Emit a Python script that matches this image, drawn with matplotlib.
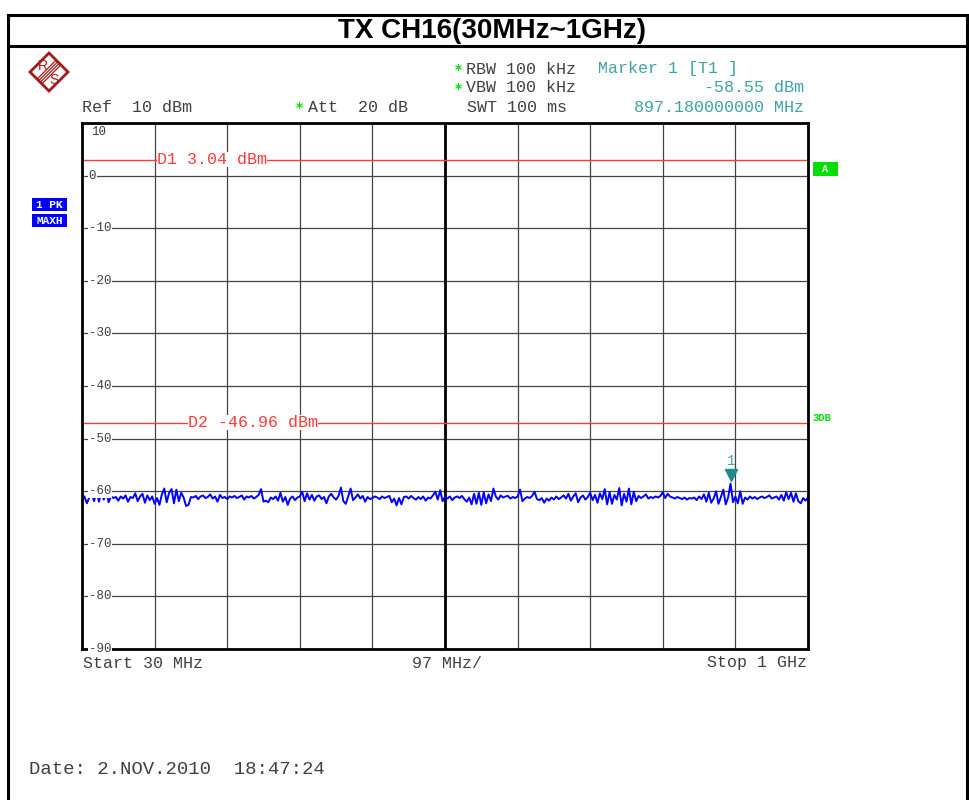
import numpy as np
import matplotlib.pyplot as plt
from matplotlib.patches import Polygon, Rectangle
from matplotlib.lines import Line2D

W, H = 969, 800

# 設定値
start_mhz = 30
stop_mhz = 1000
span_div = 97
ref_db = 10
db_div = 10
d1_dbm = 3.04
d2_dbm = -46.96
marker_mhz = 897.18
marker_dbm = -58.55

y_labels = ["10", "0", "-10", "-20", "-30", "-40", "-50", "-60", "-70", "-80", "-90"]

# トレース (画像から読み取り, 10 div x 30 点 + 1)
trace = [
    -61.8, -61.0, -62.3, -61.2, -60.3, -61.9, -59.7, -62.0, -60.1, -61.6,
    -59.9, -62.1, -61.0, -61.3, -61.1, -61.8, -61.0, -61.4, -60.8, -62.0,
    -61.1, -61.3, -60.4, -61.9, -61.0, -60.5, -62.2, -60.8, -61.7, -61.0,
    -62.4, -61.3, -62.6, -60.6, -59.5, -62.1, -60.3, -59.6, -62.3, -59.7,
    -61.9, -60.3, -61.2, -62.8, -62.6, -61.1, -61.2, -60.9, -61.5, -61.0,
    -60.8, -61.3, -61.1, -60.6, -61.4, -61.0, -62.0, -60.7, -61.3, -61.1,
    -61.5, -61.0, -61.2, -60.9, -61.3, -61.1, -60.8, -61.6, -61.0, -61.2,
    -60.9, -61.4, -61.1, -60.7, -59.6, -62.0, -61.8, -62.1, -61.2, -61.5,
    -61.0, -61.8, -60.3, -62.0, -61.1, -62.6, -61.4, -61.0, -61.7, -61.2,
    -61.0, -60.1, -61.9, -60.4, -61.6, -60.7, -61.8, -61.0, -60.8, -61.5,
    -61.1, -62.3, -61.0, -60.5, -61.2, -61.6, -60.9, -59.3, -61.9, -62.4,
    -61.0, -59.5, -61.7, -61.2, -60.6, -61.4, -60.9, -62.0, -61.1, -61.5,
    -61.3, -61.0, -61.2, -61.5, -61.0, -61.3, -61.1, -60.9, -62.1, -61.4,
    -62.7, -61.3, -62.5, -61.1, -61.0, -61.4, -60.9, -61.3, -61.6, -61.1,
    -61.5, -61.0, -61.8, -61.2, -61.4, -60.8, -60.1, -61.6, -59.8, -61.9,
    -61.1, -61.4, -61.0, -61.7, -61.2, -61.0, -61.3, -60.9, -61.5, -62.0,
    -61.2, -62.5, -60.5, -62.4, -60.3, -62.6, -60.2, -62.3, -60.6, -61.9,
    -59.5, -61.0, -61.6, -60.8, -61.2, -61.0, -60.9, -61.4, -61.1, -61.3,
    -61.0, -59.7, -61.9, -61.4, -61.1, -61.3, -60.9, -60.1, -61.5, -61.7,
    -61.3, -62.2, -61.4, -61.8, -61.2, -61.6, -61.0, -61.5, -61.2, -60.8,
    -61.4, -60.5, -61.8, -61.0, -60.4, -62.1, -61.2, -60.8, -61.6, -61.1,
    -60.3, -61.7, -60.7, -62.2, -60.4, -61.5, -59.6, -62.5, -60.2, -62.4,
    -60.7, -61.6, -59.4, -62.7, -60.5, -62.0, -59.5, -62.5, -60.1, -61.9,
    -60.9, -61.3, -61.0, -60.6, -61.4, -61.1, -61.3, -61.0, -61.2, -60.9,
    -60.2, -61.3, -60.5, -61.0, -61.2, -61.4, -61.1, -61.3, -61.5, -61.2,
    -61.6, -61.3, -61.4, -61.2, -61.7, -61.0, -61.5, -60.6, -62.0, -60.3,
    -62.2, -61.4, -60.0, -62.4, -61.1, -59.7, -62.5, -61.2, -58.55, -62.1,
    -61.0, -62.3, -60.0, -62.4, -61.2, -61.6, -61.0, -61.4, -61.1, -61.5,
    -61.2, -61.0, -61.3, -61.1, -60.8, -61.4, -61.2, -61.0, -61.6, -60.7,
    -61.8, -60.2, -61.5, -60.3, -62.0, -60.4, -61.9, -62.3, -61.3, -61.8,
    -61.2,
]
freq = np.linspace(start_mhz, stop_mhz, len(trace))

mono = "Liberation Mono"
grey_txt = "#404040"
teal = "#3fa3a3"
red = "#ff3a3a"
green = "#00e000"


def fx(x):
    return x / W


def fy(y):
    return 1 - y / H


fig = plt.figure(figsize=(W / 100, H / 100), dpi=100)

# 枠線
for xs, ys in [((8, 8), (15, 800)), ((967, 967), (15, 800)), ((8, 967), (15, 15)), ((8, 967), (46, 46))]:
    fig.add_artist(Line2D([fx(v) for v in xs], [fy(v) for v in ys], color="black", lw=2.2))

fig.text(fx(492), fy(31), "TX CH16(30MHz~1GHz)", ha="center", va="center",
         fontsize=20, fontweight="bold", family="Liberation Sans")

# R&S ロゴ
cx, cy, r = 49, 72, 19
logo_c = "#a01c1c"
fig.add_artist(Polygon([(fx(cx), fy(cy - r)), (fx(cx + r), fy(cy)), (fx(cx), fy(cy + r)), (fx(cx - r), fy(cy))],
                       closed=True, fill=False, edgecolor=logo_c, lw=2.0))
for d in (-2.4, -0.8, 0.8, 2.4):
    fig.add_artist(Line2D([fx(cx - 9.5 + d), fx(cx + 9.5 + d)], [fy(cy + 9.5 + d), fy(cy - 9.5 + d)],
                          color=logo_c, lw=0.9))
fig.text(fx(cx - 6), fy(cy - 6), "R", color=logo_c, fontsize=10, ha="center", va="center", family="Liberation Sans")
fig.text(fx(cx + 5), fy(cy + 8), "S", color=logo_c, fontsize=10, ha="center", va="center", family="Liberation Sans")

# ヘッダー
hdr = dict(fontsize=12, family=mono, va="center")
fig.text(fx(455), fy(70), "*", color=green, fontsize=10, fontweight="bold", va="center")
fig.text(fx(455), fy(89), "*", color=green, fontsize=10, fontweight="bold", va="center")
fig.text(fx(466), fy(69), "RBW 100 kHz", color=grey_txt, **hdr)
fig.text(fx(466), fy(88), "VBW 100 kHz", color=grey_txt, **hdr)
fig.text(fx(467), fy(107), "SWT 100 ms", color=grey_txt, **hdr)
fig.text(fx(598), fy(69), "Marker 1 [T1 ]", color=teal, **hdr)
fig.text(fx(804), fy(88), "%.2f dBm" % marker_dbm, color=teal, ha="right", **hdr)
fig.text(fx(804), fy(107), "%.9f MHz" % marker_mhz, color=teal, ha="right", **hdr)
fig.text(fx(82), fy(107), "Ref  %d dBm" % ref_db, color=grey_txt, **hdr)
fig.text(fx(296), fy(108), "*", color=green, fontsize=10, fontweight="bold", va="center")
fig.text(fx(308), fy(107), "Att  20 dB", color=grey_txt, **hdr)

# 左右のラベル
fig.add_artist(Rectangle((fx(32), fy(211)), fx(35), 13 / H, fc="#0000ff", ec="none"))
fig.add_artist(Rectangle((fx(32), fy(227)), fx(35), 13 / H, fc="#0000ff", ec="none"))
fig.text(fx(49.5), fy(204.5), "1 PK", color="white", fontsize=8, fontweight="bold", family=mono,
         ha="center", va="center")
fig.text(fx(49.5), fy(220.5), "MAXH", color="white", fontsize=8, fontweight="bold", family=mono,
         ha="center", va="center")
fig.add_artist(Rectangle((fx(813), fy(176)), fx(25), 14 / H, fc=green, ec="none"))
fig.text(fx(825.5), fy(169), "A", color="white", fontsize=7.5, fontweight="bold", family=mono, ha="center", va="center")
fig.text(fx(812), fy(418), "3DB", color=green, fontsize=7.5, fontweight="bold", family=mono, va="center")

# 測定画面
ax = fig.add_axes([fx(82), fy(649), fx(808) - fx(82), (649 - 123) / H])
ax.set_xlim(start_mhz, stop_mhz)
ax.set_ylim(ref_db - 10 * db_div, ref_db)
xt = np.arange(start_mhz, stop_mhz + 1, span_div)
yt = np.arange(ref_db - 10 * db_div, ref_db + 1, db_div)
ax.set_xticks(xt)
ax.set_yticks(yt)
ax.tick_params(length=0, labelbottom=False, labelleft=False)
ax.grid(True, color="#444444", lw=0.9)
ax.axvline(xt[5], color="black", lw=2)
for s in ax.spines.values():
    s.set_linewidth(2)

for lab in y_labels:
    v = float(lab)
    if v == ref_db:
        ax.text(0.013, v - 1.8, lab, transform=ax.get_yaxis_transform(), fontsize=9, family=mono,
                color=grey_txt, va="center")
    else:
        ax.text(0.009, v, lab, transform=ax.get_yaxis_transform(), fontsize=9, family=mono,
                color=grey_txt, va="center", bbox=dict(boxstyle="square,pad=0.05", fc="white", ec="none"))

ax.axhline(d1_dbm, color=red, lw=1)
ax.axhline(d2_dbm, color=red, lw=1)
ax.text(130.5, d1_dbm, "D1 %.2f dBm" % d1_dbm, color=red, fontsize=12, family=mono,
        va="center", bbox=dict(boxstyle="square,pad=0.0", fc="white", ec="none"))
ax.text(172, d2_dbm, "D2 %.2f dBm" % d2_dbm, color=red, fontsize=12, family=mono,
        va="center", bbox=dict(boxstyle="square,pad=0.0", fc="white", ec="none"))

ax.plot(freq, trace, color="#0000ff", lw=1.4)
ax.plot(marker_mhz, marker_dbm + 1.6, marker="v", color="#1f8a8a", ms=8)
ax.text(marker_mhz, marker_dbm + 4.3, "1", color=teal, fontsize=10, family=mono, ha="center", va="center")

# 下部
fig.text(fx(83), fy(663), "Start 30 MHz", color=grey_txt, **hdr)
fig.text(fx(412), fy(663), "%d MHz/" % span_div, color=grey_txt, **hdr)
fig.text(fx(807), fy(663), "Stop 1 GHz", color=grey_txt, ha="right", **hdr)
fig.text(fx(29), fy(769), "Date: 2.NOV.2010  18:47:24", color=grey_txt, fontsize=13.7, family=mono, va="center")

fig.savefig("out.png", dpi=100)
